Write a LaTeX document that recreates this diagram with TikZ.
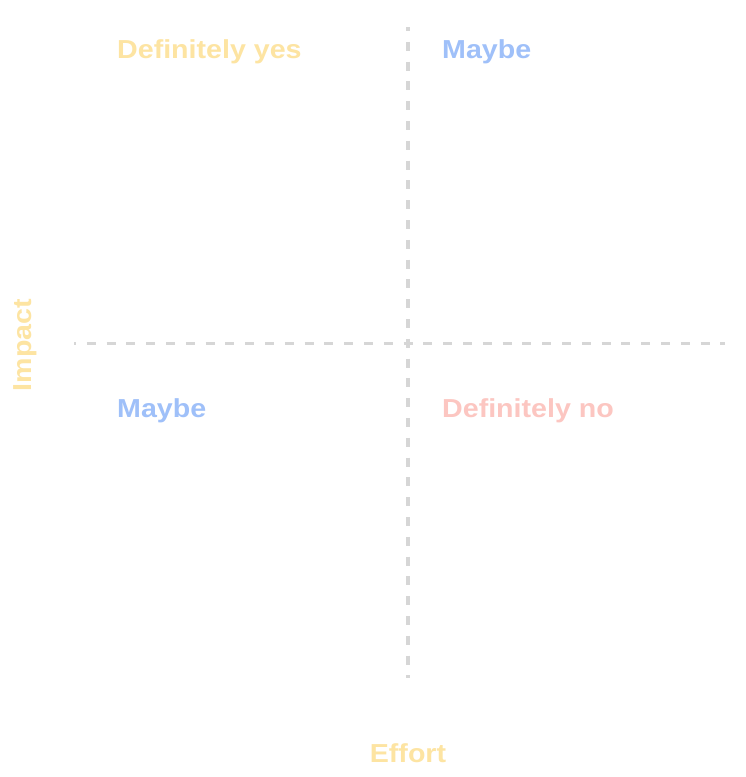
\documentclass[tikz,border=0pt]{standalone}
\usepackage{fontspec}
\setmainfont[FakeStretch=1.1]{Liberation Sans}
\definecolor{yes}{HTML}{FDE4A2}
\definecolor{maybe}{HTML}{9FC0F9}
\definecolor{no}{HTML}{FCC6C1}
\definecolor{axisgrey}{HTML}{D6D6D6}
\tikzset{
  label/.style={font=\bfseries\fontsize{26}{30}\selectfont, inner sep=0pt},
  axisline/.style={draw=axisgrey, line width=3.8pt, dash pattern=on 9pt off 10.8pt}
}
\begin{document}
\begin{tikzpicture}[x=1pt,y=-1pt]
\useasboundingbox[fill=white] (0,0) rectangle (746,777);
\coordinate (vtop) at (408,27);
\coordinate (vbot) at (408,678);
\coordinate (hl) at (74,343.5);
\coordinate (hr) at (725,343.5);
\draw[axisline, dash phase=5pt] (vtop) -- (vbot);
\draw[axisline, dash phase=7pt] (hl) -- (hr);
\node[label, text=yes, anchor=base west] (dyes) at (117,58) {Definitely yes};
\node[label, text=maybe, anchor=base west] (maybe1) at (442,58) {Maybe};
\node[label, text=maybe, anchor=base west] (maybe2) at (117,417) {Maybe};
\node[label, text=no, anchor=base west] (dno) at (442,417) {Definitely no};
\node[label, text=yes, rotate=90] (impact) at (25,345) {Impact};
\node[label, text=yes, anchor=base] (effort) at (408,762) {Effort};
\end{tikzpicture}
\end{document}
